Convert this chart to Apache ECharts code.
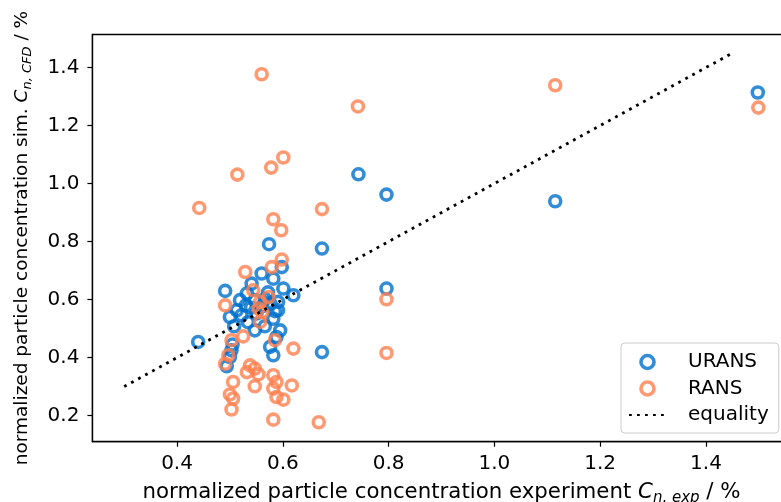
<!DOCTYPE html>
<html style="height: 100%">
<head>
	<meta charset="utf-8">
</head>
<body style="height: 100%; margin: 0">
<div id="container" style="width: 781px; height: 502px"></div>
<script type="text/javascript" src="https://cdn.jsdelivr.net/npm/echarts@6/dist/echarts.min.js"></script>
<script type="text/javascript">
	// URANS simulation vs experiment, [x, y]
	var uransData = [
		[1.498, 1.314], [1.115, 0.939], [0.743, 1.032], [0.796, 0.962], [0.796, 0.638],
		[0.674, 0.776], [0.674, 0.419], [0.440, 0.454], [0.574, 0.791], [0.598, 0.712],
		[0.560, 0.690], [0.582, 0.672], [0.541, 0.655], [0.601, 0.638], [0.620, 0.615],
		[0.491, 0.630], [0.532, 0.621], [0.591, 0.592], [0.591, 0.563], [0.582, 0.534],
		[0.513, 0.563], [0.500, 0.540], [0.522, 0.546], [0.595, 0.494], [0.588, 0.471],
		[0.576, 0.437], [0.582, 0.408], [0.503, 0.425], [0.500, 0.402], [0.494, 0.370],
		[0.547, 0.598], [0.561, 0.577], [0.534, 0.522], [0.547, 0.494], [0.566, 0.508],
		[0.519, 0.598], [0.572, 0.625], [0.508, 0.508], [0.550, 0.552], [0.566, 0.602],
		[0.540, 0.572], [0.577, 0.585], [0.530, 0.580], [0.585, 0.560], [0.505, 0.445]
	];
	// RANS simulation vs experiment, [x, y]
	var ransData = [
		[0.560, 1.377], [0.742, 1.266], [1.115, 1.339], [1.499, 1.262], [0.601, 1.090],
		[0.578, 1.055], [0.514, 1.031], [0.442, 0.916], [0.674, 0.912], [0.582, 0.877],
		[0.597, 0.839], [0.598, 0.738], [0.579, 0.712], [0.529, 0.695], [0.796, 0.601],
		[0.796, 0.416], [0.491, 0.580], [0.544, 0.632], [0.573, 0.609], [0.557, 0.592],
		[0.554, 0.569], [0.561, 0.556], [0.557, 0.523], [0.525, 0.473], [0.503, 0.460],
		[0.585, 0.460], [0.620, 0.431], [0.497, 0.408], [0.491, 0.379], [0.538, 0.373],
		[0.547, 0.362], [0.554, 0.342], [0.532, 0.350], [0.506, 0.316], [0.547, 0.301],
		[0.582, 0.339], [0.588, 0.316], [0.582, 0.293], [0.617, 0.304], [0.500, 0.273],
		[0.506, 0.259], [0.503, 0.221], [0.588, 0.264], [0.601, 0.255], [0.582, 0.186],
		[0.668, 0.177]
	];
	var equalityLine = [[0.3, 0.3], [1.45, 1.45]];
	var xTicks = [0.4, 0.6, 0.8, 1.0, 1.2, 1.4];
	var yTicks = [0.2, 0.4, 0.6, 0.8, 1.0, 1.2, 1.4];

	var font = 'DejaVu Sans';
	var blue = '#0070cc';
	var orange = '#ff7f4f';
	var ring = 3.6;

	function richFor(size) {
		return {
			i: {fontSize: size, fontStyle: 'italic', fontFamily: font, color: '#000'},
			s: {fontSize: Math.round(size * 0.7), fontStyle: 'italic', fontFamily: font, color: '#000',
				verticalAlign: 'bottom', lineHeight: Math.round(size * 0.7)}
		};
	}

	var myChart = echarts.init(document.getElementById('container'));
	var option = {
		animation: false,
		backgroundColor: '#fff',
		grid: {
			left: 92.4,
			top: 34.5,
			width: 698.2,
			height: 407.2,
			outerBoundsMode: 'none',
			containLabel: false,
			show: true,
			borderColor: '#000',
			borderWidth: 1.3,
			backgroundColor: 'transparent'
		},
		xAxis: {
			type: 'value',
			min: 0.24,
			max: 1.56,
			name: 'normalized particle concentration experiment {i|C}{s|n, exp} / %',
			nameLocation: 'middle',
			nameGap: 35,
			nameTextStyle: {fontSize: 21.3, fontFamily: font, color: '#000', lineHeight: 27, rich: richFor(21.3)},
			splitLine: {show: false},
			axisLine: {show: true, lineStyle: {color: '#000', width: 1.3}},
			axisTick: {show: true, length: 5, customValues: xTicks, lineStyle: {color: '#000', width: 1.2}},
			axisLabel: {
				customValues: xTicks,
				fontSize: 20, fontFamily: font, color: '#000', margin: 12,
				formatter: function (v) { return v.toFixed(1); }
			}
		},
		yAxis: {
			type: 'value',
			min: 0.11,
			max: 1.514,
			name: 'normalized particle concentration sim. {i|C}{s|n, CFD} / %',
			nameLocation: 'middle',
			nameGap: 58,
			nameTextStyle: {fontSize: 18.5, fontFamily: font, color: '#000', lineHeight: 24, rich: richFor(18.5)},
			splitLine: {show: false},
			axisLine: {show: true, lineStyle: {color: '#000', width: 1.3}},
			axisTick: {show: true, length: 5, customValues: yTicks, lineStyle: {color: '#000', width: 1.2}},
			axisLabel: {
				customValues: yTicks,
				fontSize: 20, fontFamily: font, color: '#000', margin: 13,
				formatter: function (v) { return v.toFixed(1); }
			}
		},
		legend: {
			orient: 'vertical',
			left: 621,
			top: 343,
			padding: [9, 10, 8, 7],
			itemGap: 6.5,
			itemWidth: 37,
			itemHeight: 13,
			backgroundColor: 'rgba(255,255,255,0.85)',
			borderColor: '#cccccc',
			borderWidth: 1,
			borderRadius: 4,
			textStyle: {fontSize: 20, fontFamily: font, color: '#000', lineHeight: 20, padding: [0, 0, 0, 17]},
			data: [
				{name: 'URANS', icon: 'circle',
					itemStyle: {color: 'rgba(255,255,255,0)', borderColor: blue, borderWidth: ring}},
				{name: 'RANS', icon: 'circle',
					itemStyle: {color: 'rgba(255,255,255,0)', borderColor: orange, borderWidth: ring}},
				{name: 'equality', itemStyle: {opacity: 0}}
			]
		},
		series: [
			{
				name: 'URANS',
				type: 'scatter',
				data: uransData,
				symbol: 'circle',
				symbolSize: 11,
				itemStyle: {color: 'rgba(255,255,255,0)', borderColor: blue, borderWidth: ring}
			},
			{
				name: 'RANS',
				type: 'scatter',
				data: ransData,
				symbol: 'circle',
				symbolSize: 11,
				itemStyle: {color: 'rgba(255,255,255,0)', borderColor: orange, borderWidth: ring}
			},
			{
				name: 'equality',
				type: 'line',
				data: equalityLine,
				symbol: 'none',
				itemStyle: {color: '#000'},
				lineStyle: {color: '#000', width: 2.8, type: [2.8, 5.2], cap: 'butt'}
			}
		]
	};
	myChart.setOption(option);
</script>
</body>
</html>
